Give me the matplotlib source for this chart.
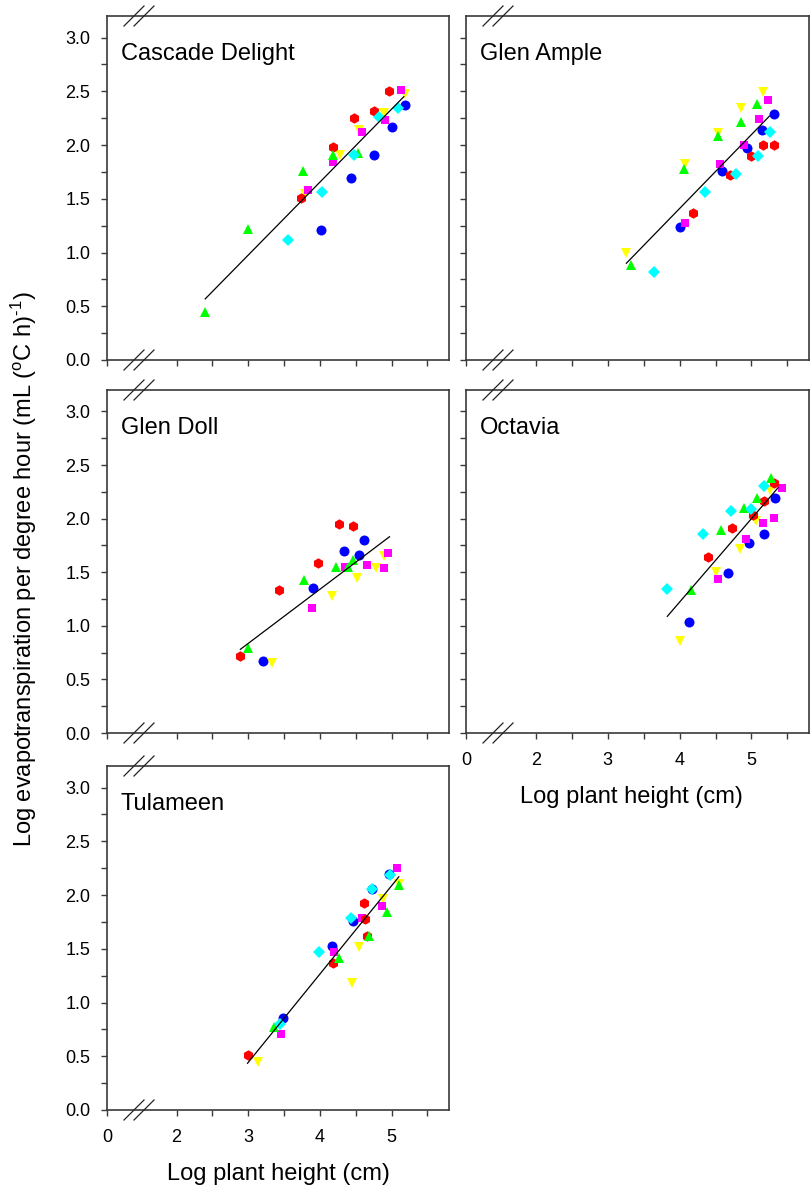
import matplotlib
matplotlib.use("Agg")
import matplotlib.pyplot as plt

plt.rcParams['font.family'] = ['Liberation Sans', 'DejaVu Sans']
plt.rcParams['mathtext.fontset'] = 'custom'
plt.rcParams['mathtext.rm'] = 'Liberation Sans'
plt.rcParams['mathtext.it'] = 'Liberation Sans:italic'

cultivars = ["Cascade Delight", "Glen Ample", "Glen Doll", "Octavia", "Tulameen"]

# series order inside each panel list: blue, yellow, magenta, red, green, cyan
series_colors = ["#0000ff", "#ffff00", "#ff00ff", "#ff0000", "#00ff00", "#00ffff"]
series_markers = ["o", "v", "s", "h", "^", "D"]
series_sizes = [7.2, 7.8, 6.0, 7.5, 7.8, 6.1]

cascade_x = [[5.18, 5.01, 4.75, 4.43, 4.01],
             [5.18, 4.89, 4.54, 4.28, 3.79],
             [5.13, 4.91, 4.58, 4.18, 3.83],
             [4.97, 4.76, 4.48, 4.18, 3.74],
             [4.53, 4.18, 3.76, 3.00, 2.40],
             [5.09, 4.83, 4.47, 4.03, 3.56]]
cascade_y = [[2.37, 2.17, 1.91, 1.69, 1.21],
             [2.47, 2.30, 2.14, 1.91, 1.54],
             [2.51, 2.23, 2.12, 1.84, 1.58],
             [2.50, 2.32, 2.25, 1.98, 1.51],
             [1.93, 1.91, 1.76, 1.22, 0.45],
             [2.34, 2.26, 1.91, 1.56, 1.12]]

ample_x = [[5.31, 5.15, 4.94, 4.59, 4.01],
           [5.16, 4.85, 4.54, 4.07, 3.26],
           [5.23, 5.10, 4.89, 4.56, 4.08],
           [5.31, 5.16, 4.99, 4.70, 4.19],
           [5.08, 4.85, 4.54, 4.06, 3.33],
           [5.26, 5.09, 4.78, 4.35, 3.64]]
ample_y = [[2.29, 2.14, 1.97, 1.76, 1.24],
           [2.49, 2.34, 2.11, 1.82, 1.00],
           [2.42, 2.24, 2.00, 1.82, 1.27],
           [2.00, 2.00, 1.90, 1.72, 1.37],
           [2.38, 2.21, 2.08, 1.78, 0.88],
           [2.12, 1.90, 1.73, 1.56, 0.82]]

doll_x = [[4.61, 4.33, 4.54, 3.91, 3.21],
          [4.90, 4.78, 4.52, 4.17, 3.33],
          [4.95, 4.65, 4.90, 4.35, 3.89],
          [4.26, 4.46, 3.97, 3.43, 2.89],
          [4.46, 4.39, 4.22, 3.78, 2.99],
          []]
doll_y = [[1.80, 1.70, 1.66, 1.35, 0.67],
          [1.65, 1.54, 1.45, 1.28, 0.65],
          [1.68, 1.57, 1.54, 1.55, 1.17],
          [1.95, 1.93, 1.59, 1.33, 0.72],
          [1.61, 1.55, 1.55, 1.43, 0.79],
          []]

octavia_x = [[5.33, 5.17, 4.97, 4.67, 4.13],
             [5.26, 5.06, 4.84, 4.50, 4.01],
             [5.43, 5.31, 5.16, 4.92, 4.54],
             [5.31, 5.18, 5.02, 4.73, 4.40],
             [5.27, 5.07, 4.89, 4.58, 4.16],
             [5.17, 4.99, 4.71, 4.33, 3.83]]
octavia_y = [[2.19, 1.86, 1.77, 1.49, 1.04],
             [2.27, 1.98, 1.72, 1.50, 0.86],
             [2.29, 2.01, 1.96, 1.81, 1.44],
             [2.33, 2.16, 2.03, 1.91, 1.64],
             [2.38, 2.19, 2.10, 1.89, 1.33],
             [2.30, 2.09, 2.07, 1.86, 1.34]]

tulameen_x = [[4.97, 4.73, 4.46, 4.17, 3.49],
              [5.10, 4.88, 4.55, 4.45, 3.14],
              [5.08, 4.86, 4.58, 4.19, 3.46],
              [4.62, 4.63, 4.66, 4.18, 2.99],
              [5.10, 4.93, 4.68, 4.26, 3.36],
              [4.98, 4.73, 4.43, 3.98, 3.44]]
tulameen_y = [[2.20, 2.06, 1.76, 1.53, 0.855],
              [2.10, 1.96, 1.52, 1.18, 0.45],
              [2.25, 1.90, 1.79, 1.47, 0.71],
              [1.93, 1.78, 1.62, 1.37, 0.51],
              [2.09, 1.84, 1.62, 1.41, 0.77],
              [2.19, 2.06, 1.79, 1.47, 0.80]]

panel_x = [cascade_x, ample_x, doll_x, octavia_x, tulameen_x]
panel_y = [cascade_y, ample_y, doll_y, octavia_y, tulameen_y]

# regression lines
fit_slope = [0.679, 0.688, 0.505, 0.779, 0.822]
fit_intercept = [-1.061, -1.343, -0.679, -1.895, -2.023]
fit_x0 = [2.40, 3.26, 2.89, 3.83, 2.99]
fit_x1 = [5.17, 5.25, 4.97, 5.37, 5.10]

x_tick_labels = ["0", "2", "3", "4", "5"]
y_ticks = [0.0, 0.5, 1.0, 1.5, 2.0, 2.5, 3.0]

W, H = 811, 1191
# panel boxes in pixels: left, top, right, bottom
boxes = [(107, 16, 449, 360), (466, 16, 809, 360),
         (107, 390, 449, 733), (466, 390, 809, 733),
         (107, 766, 449, 1110)]

fig = plt.figure(figsize=(W / 100, H / 100), dpi=100)
spine_col = "#3a3a3a"
xmin, xmax = 1.03, 5.8

for i, name in enumerate(cultivars):
    l, t, r, b = boxes[i]
    ax = fig.add_axes([l / W, 1 - b / H, (r - l) / W, (b - t) / H])
    for k in range(len(series_colors)):
        if not panel_x[i][k]:
            continue
        ax.plot(panel_x[i][k], panel_y[i][k], linestyle="none",
                marker=series_markers[k], markersize=series_sizes[k],
                color=series_colors[k], markeredgewidth=0, zorder=3 + k * 0.1)
    x0, x1 = fit_x0[i], fit_x1[i]
    ax.plot([x0, x1],
            [fit_intercept[i] + fit_slope[i] * x0, fit_intercept[i] + fit_slope[i] * x1],
            color="black", lw=0.9, zorder=5)

    ax.set_xlim(xmin, xmax)
    ax.set_ylim(0, 3.2)
    ax.set_xticks([xmin, 2, 3, 4, 5])
    ax.set_xticks([2.5, 3.5, 4.5, 5.5], minor=True)
    ax.set_yticks(y_ticks)
    ax.set_yticks([0.25, 0.75, 1.25, 1.75, 2.25, 2.75], minor=True)
    ax.tick_params(which="both", direction="out", length=4, width=1,
                   color=spine_col, labelsize=13)
    ax.tick_params(axis="y", pad=8)
    ax.tick_params(axis="x", pad=10)
    if i in (3, 4):
        ax.set_xticklabels(x_tick_labels)
        ax.set_xlabel("Log plant height (cm)", fontsize=17)
        ax.xaxis.set_label_coords(0.481 if i == 3 else 0.5, -0.155)
        ax.xaxis.label.set_va("top")
    else:
        ax.set_xticklabels([])
    if i in (0, 2, 4):
        ax.set_yticklabels([f"{v:.1f}" for v in y_ticks])
    else:
        ax.set_yticklabels([])
    for s in ax.spines.values():
        s.set_color(spine_col)
        s.set_linewidth(1.2)

    ax.text(14 / (r - l), 1 - 44 / (b - t), name, transform=ax.transAxes,
            fontsize=17, va="baseline", ha="left")

    # axis break marks on the bottom and top spines
    wpx, hpx = r - l, b - t
    for yb in (0, 1):
        for cx in (27, 37):
            ax.plot([(cx - 10) / wpx, (cx + 10) / wpx],
                    [yb - 10 / hpx, yb + 10 / hpx],
                    transform=ax.transAxes, color="#222222", lw=0.9,
                    clip_on=False, zorder=6)

fig.text(24 / W, 1 - 569 / H,
         r"Log evapotranspiration per degree hour (mL ($^{\mathrm{o}}$C h)$^{\text{-1}}$)",
         rotation=90, fontsize=17, ha="center", va="center")

fig.savefig("out.png", dpi=100)
